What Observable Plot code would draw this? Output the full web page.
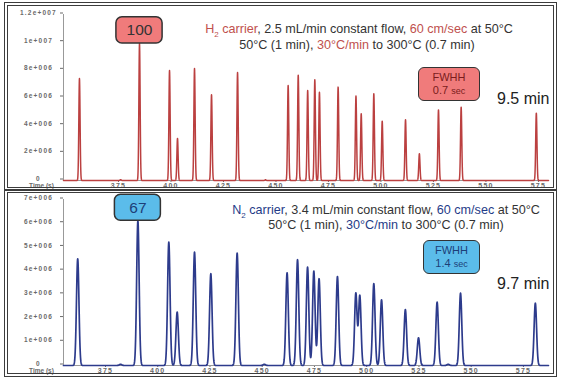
<!DOCTYPE html>
<html><head><meta charset="utf-8">
<script src="https://cdn.jsdelivr.net/npm/d3@7"></script>
<script src="https://cdn.jsdelivr.net/npm/@observablehq/plot@0.6"></script>
<style>
body{margin:0;background:#fff;}
#wrap{position:relative;width:561px;height:378px;overflow:hidden;background:#fff;font-family:"Liberation Sans",Arial,sans-serif;}
#wrap svg{position:absolute;left:0;}
.frame{position:absolute;left:4px;width:553px;border:4px double #3c3c3c;box-sizing:border-box;pointer-events:none;}
.note{position:absolute;white-space:nowrap;transform:translateX(-50%);text-align:center;color:#333;font-size:12.6px;line-height:15px;}
.box{position:absolute;box-sizing:border-box;border:1.5px solid #333;border-radius:6px;text-align:center;}
.big{position:absolute;font-size:16px;color:#222;white-space:nowrap;}
g[aria-label$="tick label"] text{letter-spacing:1.2px;font-weight:bold;}
</style></head>
<body><div id="wrap"></div>
<script>
// ---- data ----
const xTicks = [375, 400, 425, 450, 475, 500, 525, 550, 575];
const xTickLabels = ["375", "400", "425", "450", "475", "500", "525", "550", "575"];
const h2YTicks = [0, 2e6, 4e6, 6e6, 8e6, 1e7, 1.2e7];
const h2YTickLabels = ["0", "2e+006", "4e+006", "6e+006", "8e+006", "1e+007", "1.2e+007"];
const n2YTicks = [0, 1e6, 2e6, 3e6, 4e6, 5e6, 6e6, 7e6];
const n2YTickLabels = ["0", "1e+006", "2e+006", "3e+006", "4e+006", "5e+006", "6e+006", "7e+006"];

// H2 carrier: retention time (s) and peak height
const h2Times   = [356.4, 376.0, 385.0, 399.3, 403.1, 411.2, 419.3, 431.7, 445.0, 455.8, 460.6, 465.1, 468.5, 470.7, 479.6, 488.1, 490.6, 496.6, 500.6, 511.7, 518.3, 527.4, 538.2, 574.0];
const h2Heights = [7.37e6, 0.06e6, 9.9e6, 7.95e6, 3.04e6, 8.1e6, 6.2e6, 7.8e6, 0.05e6, 6.87e6, 7.6e6, 6.5e6, 7.28e6, 6.38e6, 6.75e6, 6.1e6, 4.82e6, 6.27e6, 4.29e6, 4.39e6, 1.93e6, 5.1e6, 5.3e6, 4.87e6];
// N2 carrier
const n2Times   = [361.7, 382.2, 390.5, 405.3, 409.3, 417.6, 425.4, 438.0, 451.0, 461.9, 466.9, 471.7, 474.7, 477.2, 486.0, 494.8, 496.7, 503.4, 507.1, 518.5, 524.8, 533.7, 539.0, 544.9, 580.7];
const n2Heights = [4.5e6, 0.05e6, 6.1e6, 5.2e6, 2.25e6, 4.78e6, 3.87e6, 4.74e6, 0.05e6, 3.91e6, 4.46e6, 4.15e6, 3.98e6, 3.66e6, 3.75e6, 3.05e6, 2.95e6, 3.45e6, 2.77e6, 2.36e6, 1.17e6, 2.67e6, 0.05e6, 3.05e6, 2.63e6];

const h2Fwhh = 0.7, n2Fwhh = 1.4;          // seconds
const h2TimeRange = [348.8, 579.8];
const n2TimeRange = [354.9, 587.0];
const h2PeakLabel = {time: 385.0, text: "100"};
const n2PeakLabel = {time: 390.5, text: "67"};

// ---- build the chromatogram traces from the peak table ----
function trace(times, heights, fwhh, range, step) {
  const s = fwhh / 2.3548;
  const ts = [];
  for (let t = range[0]; t <= range[1]; t += step) ts.push(t);
  times.forEach(t => ts.push(t));
  ts.sort((a, b) => a - b);
  return ts.map(t => {
    let v = 0;
    for (let i = 0; i < times.length; i++) {
      const d = (t - times[i]) / s;
      if (Math.abs(d) < 9) v += heights[i] * Math.exp(-0.5 * d * d);
    }
    return {t, v};
  });
}
const h2Trace = trace(h2Times, h2Heights, h2Fwhh, h2TimeRange, 0.05);
const n2Trace = trace(n2Times, n2Heights, n2Fwhh, n2TimeRange, 0.08);

function panel(opts) {
  const peakH = opts.heights[opts.times.indexOf(opts.label.time)];
  return Plot.plot({
    width: 561, height: opts.height,
    marginLeft: 63, marginRight: 13, marginTop: opts.mt, marginBottom: opts.mb,
    style: {fontSize: "7px", fontFamily: "Liberation Sans, Arial, sans-serif", color: "#6a6a6a", background: "transparent", overflow: "visible"},
    x: {domain: opts.range, label: null},
    y: {domain: opts.ydomain, label: null},
    marks: [
      Plot.axisX({ticks: xTicks, tickFormat: d => xTickLabels[xTicks.indexOf(d)], tickSize: 2, tickPadding: 1, label: null}),
      Plot.axisY({ticks: opts.yTicks, tickFormat: d => opts.yLabels[opts.yTicks.indexOf(d)], tickSize: 3, tickPadding: 22,
        textAnchor: "middle", dy: -1.5, fontSize: 6.5, label: null}),
      Plot.ruleX([opts.range[0]], {stroke: "#999", strokeWidth: 1}),
      Plot.ruleY([0], {stroke: "#999", strokeWidth: 1}),
      Plot.line(opts.data, {x: "t", y: "v", stroke: opts.color, strokeWidth: opts.sw}),
      Plot.rect([opts.label], {x1: d => d.time - 11, x2: d => d.time + 11, y1: peakH, y2: peakH + opts.boxH,
        fill: opts.boxFill, stroke: "#333", strokeWidth: 1.5, rx: 6}),
      Plot.text([opts.label], {x: "time", y: peakH + opts.boxH / 2, text: "text", fontSize: 15.5, fill: opts.labelColor,
        fontFamily: "Liberation Sans, Arial, sans-serif"}),
      Plot.text(["Time (s)"], {frameAnchor: "bottom-left", dx: -22, dy: 7.5, textAnchor: "middle", fill: "#6a6a6a",
        fontWeight: "bold", fontSize: 6.5})
    ]
  });
}

const wrap = document.getElementById("wrap");
const topPlot = panel({height: 190, mt: 14, mb: 10, range: h2TimeRange, ydomain: [0, 1.2e7], yTicks: h2YTicks, yLabels: h2YTickLabels,
  data: h2Trace, times: h2Times, heights: h2Heights, label: h2PeakLabel, boxH: 1.9e6, boxFill: "#f07b7b", labelColor: "#333",
  color: "#bb4040", sw: 1.5});
topPlot.style.top = "0px";
wrap.appendChild(topPlot);
const botPlot = panel({height: 188, mt: 9, mb: 13, range: n2TimeRange, ydomain: [0, 7e6], yTicks: n2YTicks, yLabels: n2YTickLabels,
  data: n2Trace, times: n2Times, heights: n2Heights, label: n2PeakLabel, boxH: 1.1e6, boxFill: "#5bbcea", labelColor: "#1d3f78",
  color: "#2d3b8c", sw: 1.7});
botPlot.style.top = "190px";
wrap.appendChild(botPlot);

// ---- annotations ----
const red = "#c0504d", navy = "#1f3c88";
wrap.insertAdjacentHTML("beforeend", `
<div class="note" style="left:359px;top:22px"><span style="color:${red}">H<sub style="font-size:8px">2</sub> carrier</span>, 2.5 mL/min constant flow, <span style="color:${red}">60 cm/sec</span> at 50°C</div>
<div class="note" style="left:357px;top:38px">50°C (1 min), <span style="color:${red}">30°C/min</span> to 300°C (0.7 min)</div>
<div class="box" style="left:418px;top:67px;width:62px;height:34px;background:#f07b7b;color:#7a1c1c;font-size:11px;line-height:13px;padding-top:3px">FWHH<br>0.7 <span style="font-size:9px">sec</span></div>
<div class="big" style="left:497px;top:90px">9.5 min</div>
<div class="note" style="left:386px;top:203px"><span style="color:${navy}">N<sub style="font-size:8px">2</sub> carrier</span>, 3.4 mL/min constant flow, <span style="color:${navy}">60 cm/sec</span> at 50°C</div>
<div class="note" style="left:386px;top:218px">50°C (1 min), <span style="color:${navy}">30°C/min</span> to 300°C (0.7 min)</div>
<div class="box" style="left:423px;top:240px;width:57px;height:34px;background:#5bbcea;color:#1d3f78;font-size:11px;line-height:13px;padding-top:3px">FWHH<br>1.4 <span style="font-size:9px">sec</span></div>
<div class="big" style="left:497px;top:275px">9.7 min</div>
<div class="frame" style="top:2px;height:189px"></div>
<div class="frame" style="top:189px;height:188px"></div>
`);
</script>
</body></html>
